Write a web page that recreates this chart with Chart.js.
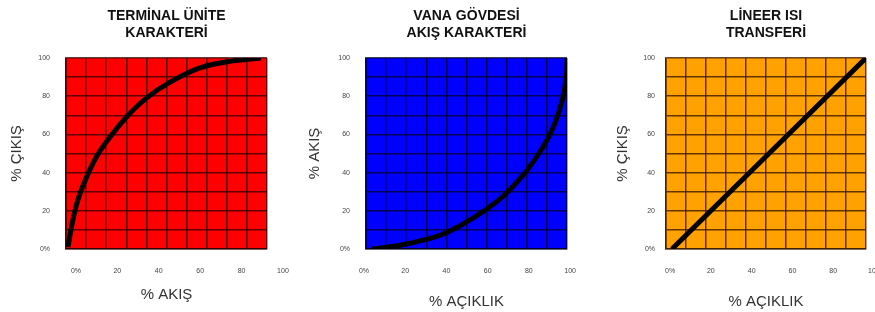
<!DOCTYPE html>
<html>
<head>
<meta charset="utf-8">
<script src="https://cdn.jsdelivr.net/npm/chart.js@4.4.1/dist/chart.umd.min.js"></script>
<style>
  body { margin: 0; background: #fff; width: 875px; height: 312px; position: relative; overflow: hidden; }
  canvas { position: absolute; top: 0; }
</style>
</head>
<body>
<canvas id="terminal" width="291" height="312" style="left:0px"></canvas>
<canvas id="valve" width="292" height="312" style="left:291px"></canvas>
<canvas id="linear" width="292" height="312" style="left:583px"></canvas>
<script>
// tick labels
const xTickValues = [0, 20, 40, 60, 80, 100];
const xTickLabels = ["0%", "20", "40", "60", "80", "100"];
const yTickValues = [0, 20, 40, 60, 80, 100];
const yTickLabels = ["0%", "20", "40", "60", "80", "100"];

// terminal unit characteristic (red)
const terminalX = [1, 3, 6, 10, 15, 20, 30, 40, 52, 67, 83, 97];
const terminalY = [1, 13, 26, 37, 48, 56, 69, 79, 87.5, 95, 98.5, 100];

// valve body flow characteristic (blue)
const valveX = [3, 17, 30, 40, 53, 67, 78, 86, 92, 96, 98.5, 99.7, 100];
const valveY = [0, 2, 5, 8.5, 16, 26.5, 38.5, 50, 61, 72, 82, 91, 100];

// linear heat transfer (orange)
const linearX = [3, 100];
const linearY = [0, 100];

const FONT = "'Liberation Sans', Arial, sans-serif";

const plotFill = {
  id: "plotFill",
  beforeDraw(chart, args, opts) {
    const { ctx, chartArea: a } = chart;
    ctx.save();
    ctx.fillStyle = opts.color;
    ctx.fillRect(a.left, a.top, a.width, a.height);
    ctx.restore();
  }
};

function makePanel(id, cfg) {
  const points = cfg.xs.map((x, i) => ({ x: x, y: cfg.ys[i] }));
  new Chart(document.getElementById(id), {
    type: "line",
    data: {
      datasets: [{
        data: points,
        borderColor: "#000",
        borderWidth: 5,
        pointRadius: 0,
        tension: 0.4,
        fill: false
      }]
    },
    options: {
      responsive: false,
      animation: false,
      layout: { padding: { left: 0, right: cfg.rightPad, top: 0, bottom: 0 } },
      plugins: {
        legend: { display: false },
        tooltip: { enabled: false },
        plotFill: { color: cfg.fill },
        title: {
          display: true,
          fullSize: false,
          text: cfg.title,
          color: "#111",
          font: { family: FONT, size: 14, weight: "bold", lineHeight: 1.2 },
          padding: { top: 7.6, bottom: 16.8 }
        }
      },
      scales: {
        x: {
          type: "linear",
          position: "bottom",
          min: 0,
          max: 100,
          ticks: { stepSize: 10, display: false },
          grid: { color: cfg.gridColor, drawTicks: false, lineWidth: 1.5 },
          border: { color: cfg.gridColor, width: 1.5 },
          afterFit: s => { s.height = 0; }
        },
        xl: {
          type: "linear",
          position: "bottom",
          min: cfg.labelMin,
          max: cfg.labelMax,
          afterBuildTicks: s => { s.ticks = xTickValues.map(v => ({ value: v })); },
          ticks: {
            autoSkip: false,
            maxRotation: 0,
            padding: 9.5,
            color: "#444",
            font: { family: FONT, size: 7 },
            callback: (v, i) => xTickLabels[i]
          },
          grid: { display: false },
          border: { display: false },
          title: {
            display: true,
            text: cfg.xTitle,
            color: "#333",
            font: { family: FONT, size: 15 },
            padding: { top: 0, bottom: cfg.xTitlePad }
          },
          afterFit: s => {
            s.height = 63;
            s.paddingLeft = 0;
            s.paddingRight = 0;
          }
        },
        y: {
          min: 0,
          max: 100,
          ticks: {
            stepSize: 10,
            padding: cfg.yTickPad,
            color: "#444",
            font: { family: FONT, size: 7 },
            callback: v => {
              const i = yTickValues.indexOf(v);
              return i < 0 ? "" : yTickLabels[i];
            }
          },
          grid: { color: cfg.gridColor, drawTicks: false, lineWidth: 1.5 },
          border: { color: cfg.gridColor, width: 1.5 },
          title: {
            display: true,
            text: cfg.yTitle,
            color: "#333",
            font: { family: FONT, size: 15 },
            padding: { top: cfg.yTitlePad, bottom: 0 }
          },
          afterFit: s => { s.width = cfg.yWidth; }
        }
      }
    },
    plugins: [plotFill]
  });
}

makePanel("terminal", {
  title: ["TERMİNAL ÜNİTE", "KARAKTERİ"],
  xTitle: "% AKIŞ",
  yTitle: "% ÇIKIŞ",
  xs: terminalX, ys: terminalY,
  fill: "#ff0000", gridColor: "rgba(40,0,0,0.75)",
  yWidth: 66, rightPad: 24, yTickPad: 16, yTitlePad: 8, xTitlePad: 8,
  labelMin: -4.8, labelMax: 92.3
});

makePanel("valve", {
  title: ["VANA GÖVDESİ", "AKIŞ KARAKTERİ"],
  xTitle: "% AÇIKLIK",
  yTitle: "% AKIŞ",
  xs: valveX, ys: valveY,
  fill: "#0000ff", gridColor: "rgba(0,0,30,0.75)",
  yWidth: 75, rightPad: 16, yTickPad: 16, yTitlePad: 15, xTitlePad: 1,
  labelMin: 1, labelMax: 98.5
});

makePanel("linear", {
  title: ["LİNEER ISI", "TRANSFERİ"],
  xTitle: "% AÇIKLIK",
  yTitle: "% ÇIKIŞ",
  xs: linearX, ys: linearY,
  fill: "#ffa200", gridColor: "rgba(60,25,0,0.8)",
  yWidth: 83, rightPad: 9, yTickPad: 11, yTitlePad: 31, xTitlePad: 1,
  labelMin: -2, labelMax: 96.1
});
</script>
</body>
</html>
